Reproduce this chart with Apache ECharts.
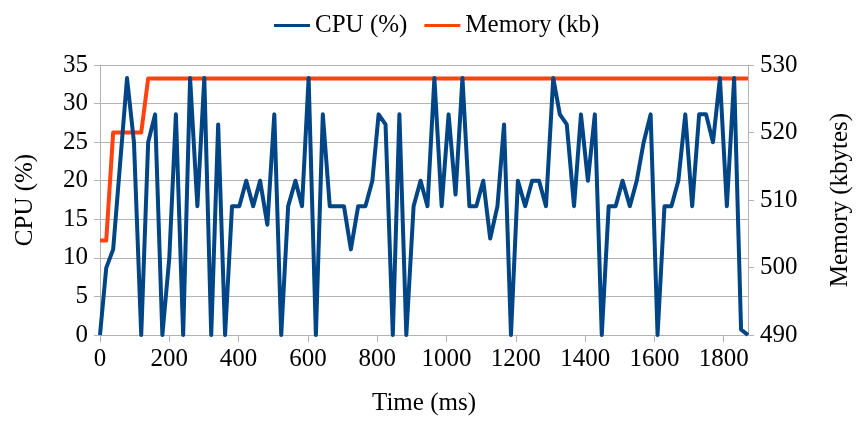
<!DOCTYPE html>
<html>
<head>
<meta charset="utf-8">
<script src="https://cdn.jsdelivr.net/npm/echarts@6/dist/echarts.min.js"></script>
<style>
html,body{margin:0;padding:0;background:#fff;}
#chart{width:861px;height:421px;}
</style>
</head>
<body>
<div id="chart"></div>
<script>
// Time stamps (ms) of CPU samples
const times = [0,18,38,78,98,119,139,159,180,200,219,240,260,281,301,321,341,361,381,402,
  422,442,462,483,503,523,543,564,583,602,623,643,663,683,704,724,745,766,786,804,
  824,845,864,884,905,925,945,965,986,1006,1026,1046,1066,1086,1106,1126,1147,1166,1186,1206,
  1227,1247,1267,1287,1308,1327,1347,1368,1388,1408,1428,1448,1468,1488,1508,1529,1549,1569,1589,1609,
  1629,1649,1669,1689,1709,1729,1749,1769,1789,1809,1830,1850,1870];
// CPU (%) values
const cpu = [0,8.7,11.1,33.3,25,0,25,28.6,0,10,28.6,0,33.3,16.7,33.3,0,27.3,0,16.7,16.7,
  20,16.7,20,14.3,28.6,0,16.7,20,16.7,33.3,0,28.6,16.7,16.7,16.7,11.1,16.7,16.7,20,28.6,
  27.3,0,28.6,0,16.7,20,16.7,33.3,16.7,28.6,18.2,33.3,16.7,16.7,20,12.5,16.7,27.3,0,20,
  16.7,20,20,16.7,33.3,28.6,27.3,16.7,28.6,20,28.6,0,16.7,16.7,20,16.7,20,25,28.6,0,
  16.7,16.7,20,28.6,16.7,28.6,28.6,25,33.3,16.7,33.3,0.7,0];
// Memory (kb) change points
const memTimes = [0,18,38,119,139,1870];
const memValues = [504,504,520,520,528,528];
// Axis ticks
const xTicks = {min:0, max:1870, interval:200};
const cpuTicks = {min:0, max:35, interval:5};
const memTicks = {min:490, max:530, interval:10};

const cpuData = times.map((t,i)=>[t,cpu[i]]);
const memData = memTimes.map((t,i)=>[t,memValues[i]]);

const FONT = 'Liberation Serif';
const gridColor = '#b3b3b3';
const txt = {fontFamily: FONT, fontSize: 25, color: '#000'};
const plain = v => String(v);

const chart = echarts.init(document.getElementById('chart'), null, {renderer:'canvas'});
chart.setOption({
  animation: false,
  backgroundColor: '#fff',
  textStyle: {fontFamily: FONT},
  legend: {
    top: 8, left: 269,
    itemWidth: 36, itemHeight: 3, itemGap: 17,
    icon: 'rect',
    textStyle: Object.assign({padding: [0,0,0,0]}, txt),
    data: ['CPU (%)','Memory (kb)']
  },
  grid: {left: 100, right: 105, top: 65, bottom: 86, containLabel: false},
  xAxis: {
    type: 'value', min: xTicks.min, max: xTicks.max, interval: xTicks.interval,
    name: 'Time (ms)', nameLocation: 'middle', nameGap: 56,
    nameTextStyle: Object.assign({}, txt),
    axisLine: {show: true, lineStyle: {color: gridColor, width: 1}},
    axisTick: {show: true, length: 7, lineStyle: {color: gridColor}},
    axisLabel: Object.assign({margin: 12, showMaxLabel: false, formatter: plain}, txt),
    splitLine: {show: false}
  },
  yAxis: [{
    type: 'value', min: cpuTicks.min, max: cpuTicks.max, interval: cpuTicks.interval,
    name: 'CPU (%)', nameLocation: 'middle', nameGap: 62, nameRotate: 90,
    nameTextStyle: Object.assign({}, txt),
    axisLine: {show: true, lineStyle: {color: gridColor, width: 1}},
    axisTick: {show: true, length: 6, lineStyle: {color: gridColor}},
    axisLabel: Object.assign({margin: 12, formatter: plain}, txt),
    splitLine: {show: true, lineStyle: {color: gridColor, width: 1}}
  },{
    type: 'value', min: memTicks.min, max: memTicks.max, interval: memTicks.interval,
    position: 'right',
    name: 'Memory (kbytes)', nameLocation: 'middle', nameGap: 80, nameRotate: 90,
    nameTextStyle: Object.assign({}, txt),
    axisLine: {show: true, lineStyle: {color: gridColor, width: 1}},
    axisTick: {show: true, length: 6, lineStyle: {color: gridColor}},
    axisLabel: Object.assign({margin: 12, formatter: plain}, txt),
    splitLine: {show: false}
  }],
  series: [{
    name: 'CPU (%)', type: 'line', yAxisIndex: 0, z: 3,
    data: cpuData, showSymbol: false, symbol: 'none',
    itemStyle: {color: '#004586'},
    lineStyle: {color: '#004586', width: 4, join: 'round'}
  },{
    name: 'Memory (kb)', type: 'line', yAxisIndex: 1, z: 2,
    data: memData, showSymbol: false, symbol: 'none',
    itemStyle: {color: '#ff420e'},
    lineStyle: {color: '#ff420e', width: 4, join: 'round'}
  }]
});
</script>
</body>
</html>
